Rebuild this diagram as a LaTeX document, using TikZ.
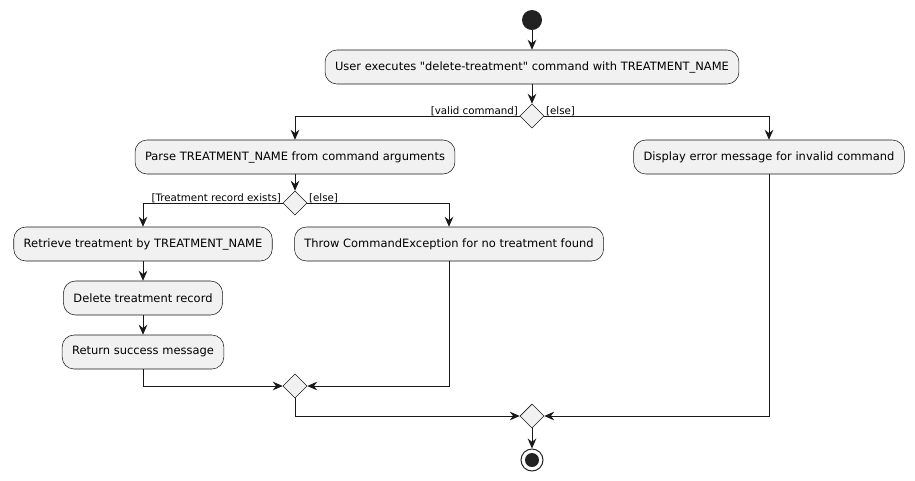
\documentclass[tikz,border=0pt]{standalone}
\usepackage{fontspec}
\setmainfont{DejaVu Sans}
\usetikzlibrary{shapes.geometric,arrows.meta}
\definecolor{actfill}{HTML}{F1F1F1}
\definecolor{actline}{HTML}{181818}
\definecolor{dotfill}{HTML}{222222}
\begin{document}
\begin{tikzpicture}[x=0.75pt,y=-0.75pt]

		\tikzstyle{action}=[rectangle,rounded corners=9pt,
			fill=actfill,draw=actline,line width=0.4pt,
			minimum height=25.5pt,inner xsep=7.5pt,
			font=\fontsize{8.6}{10.5}\selectfont,align=center]
		\tikzstyle{branch}=[diamond,aspect=1,fill=actfill,draw=actline,
			line width=0.4pt,minimum size=18pt,inner sep=0pt]
		\tikzstyle{guard}=[font=\fontsize{7.7}{9}\selectfont,inner sep=1pt,yshift=-1.5pt]
		\tikzstyle{flow}=[-{Stealth[length=7.5pt,width=6.5pt,inset=2.5pt]},
			draw=actline,line width=0.75pt]

		\useasboundingbox (0,0) rectangle (915,480);

		\node[circle,fill=dotfill,minimum size=15pt,inner sep=0pt]	(start)	at (532,20)	{};
		\node[action]	(exec)	at (532,67)	{User executes \textquotedbl delete-treatment\textquotedbl\ command with TREATMENT\_NAME};
		\node[branch]	(valid)	at (532,116)	{};
		\node[action]	(parse)	at (295,157)	{Parse TREATMENT\_NAME from command arguments};
		\node[action]	(error)	at (769,157)	{Display error message for invalid command};
		\node[branch]	(exists)	at (295,203)	{};
		\node[action]	(fetch)	at (143,244)	{Retrieve treatment by TREATMENT\_NAME};
		\node[action]	(throw)	at (449,244)	{Throw CommandException for no treatment found};
		\node[action]	(delete)	at (143,298)	{Delete treatment record};
		\node[action]	(success)	at (143,352)	{Return success message};
		\node[branch]	(mergein)	at (295,386)	{};
		\node[branch]	(mergeout)	at (532,416)	{};
		\node[circle,draw=dotfill,line width=0.75pt,minimum size=16.5pt,inner sep=0pt]	(stop)	at (532,460)	{};
		\node[circle,fill=dotfill,minimum size=10.5pt,inner sep=0pt]	(stopdot)	at (stop)	{};

		\draw[flow] (start) -- (exec);
		\draw[flow] (exec) -- (valid);
		\draw[flow] (valid) -| node[guard,pos=0,anchor=south east]{[valid command]} (parse);
		\draw[flow] (valid) -| node[guard,pos=0,anchor=south west]{[else]} (error);
		\draw[flow] (parse) -- (exists);
		\draw[flow] (exists) -| node[guard,pos=0,anchor=south east]{[Treatment record exists]} (fetch);
		\draw[flow] (exists) -| node[guard,pos=0,anchor=south west]{[else]} (throw);
		\draw[flow] (fetch) -- (delete);
		\draw[flow] (delete) -- (success);
		\draw[flow] (success) |- (mergein);
		\draw[flow] (throw) |- (mergein);
		\draw[flow] (mergein) |- (mergeout);
		\draw[flow] (error) |- (mergeout);
		\draw[flow] (mergeout) -- (stop);

	\end{tikzpicture}
\end{document}
